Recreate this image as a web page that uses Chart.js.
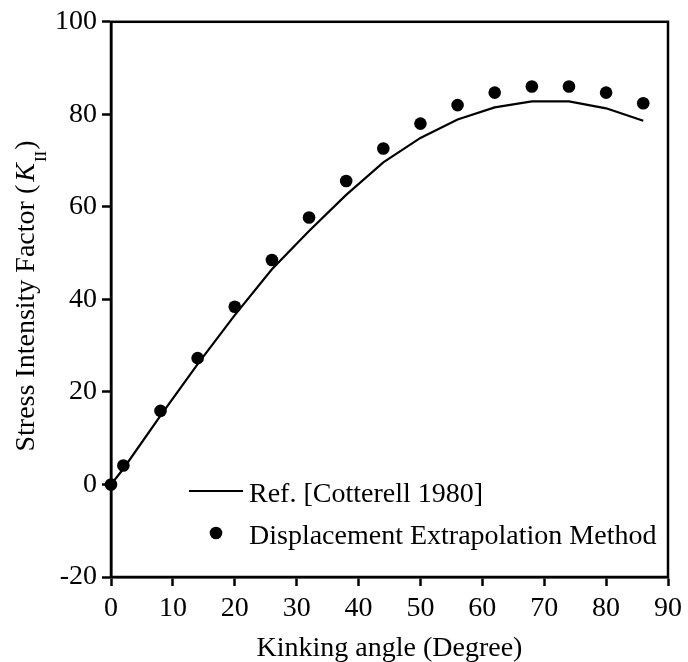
<!DOCTYPE html>
<html>
<head>
<meta charset="utf-8">
<script src="https://cdn.jsdelivr.net/npm/chart.js@4/dist/chart.umd.min.js"></script>
<style>
  html, body { margin: 0; padding: 0; background: #fff; }
  #wrap { width: 688px; height: 662px; }
</style>
</head>
<body>
<div id="wrap"><canvas id="c" width="688" height="662"></canvas></div>
<script>
const angles = [0, 2, 8, 14, 20, 26, 32, 38, 44, 50, 56, 62, 68, 74, 80, 86];
const refValues = [0, 3.4, 14.9, 26.0, 36.6, 46.5, 54.8, 62.6, 69.6, 74.9, 78.9, 81.5, 82.8, 82.8, 81.3, 78.6];
const demValues = [0, 4.1, 15.9, 27.3, 38.4, 48.5, 57.7, 65.6, 72.6, 78.0, 82.0, 84.7, 86.0, 86.0, 84.7, 82.4];
const xTicks = [0, 10, 20, 30, 40, 50, 60, 70, 80, 90];
const yTicks = [-20, 0, 20, 40, 60, 80, 100];
const seriesLabels = ['Ref. [Cotterell 1980]', 'Displacement Extrapolation Method'];
const xTitle = 'Kinking angle (Degree)';
const yTitleMain = 'Stress Intensity Factor (';
const yTitleVar = 'K';
const yTitleSub = 'II';
const yTitleEnd = ')';

const FONT = '"Liberation Serif", "Times New Roman", serif';

const decorPlugin = {
  id: 'decor',
  afterDraw(chart) {
    const ctx = chart.ctx;
    const a = chart.chartArea;
    ctx.save();
    // frame
    ctx.strokeStyle = '#000';
    ctx.lineWidth = 2.5;
    ctx.strokeRect(a.left, a.top, a.right - a.left, a.bottom - a.top);

    // x title
    ctx.fillStyle = '#000';
    ctx.font = '28px ' + FONT;
    ctx.textAlign = 'center';
    ctx.textBaseline = 'alphabetic';
    ctx.fillText(xTitle, (a.left + a.right) / 2, 656);

    // y title (rotated, mixed styles)
    const fMain = '28px ' + FONT;
    const fIt = 'italic 28px ' + FONT;
    const fSub = '17px ' + FONT;
    ctx.font = fMain; const w1 = ctx.measureText(yTitleMain).width;
    ctx.font = fIt; const w2 = ctx.measureText(yTitleVar).width;
    ctx.font = fSub; const w3 = ctx.measureText(yTitleSub).width;
    ctx.font = fMain; const w4 = ctx.measureText(yTitleEnd).width;
    const gap = 3;
    const total = w1 + gap + w2 + 1 + w3 + 1 + w4;
    ctx.translate(34, 296);
    ctx.rotate(-Math.PI / 2);
    ctx.textAlign = 'left';
    let x = -total / 2;
    ctx.font = fMain; ctx.fillText(yTitleMain, x, 0); x += w1 + gap;
    ctx.font = fIt; ctx.fillText(yTitleVar, x, 0); x += w2 + 1;
    ctx.font = fSub; ctx.fillText(yTitleSub, x, 12); x += w3 + 1;
    ctx.font = fMain; ctx.fillText(yTitleEnd, x, 0);
    ctx.restore();

    // legend
    ctx.save();
    ctx.fillStyle = '#000';
    ctx.strokeStyle = '#000';
    ctx.font = '28px ' + FONT;
    ctx.textAlign = 'left';
    ctx.textBaseline = 'alphabetic';
    ctx.lineWidth = 2.2;
    ctx.beginPath();
    ctx.moveTo(189, 491);
    ctx.lineTo(243, 491);
    ctx.stroke();
    ctx.fillText(seriesLabels[0], 249, 501.5);
    ctx.beginPath();
    ctx.arc(216, 533, 6.3, 0, Math.PI * 2);
    ctx.fill();
    ctx.fillText(seriesLabels[1], 249, 544);
    ctx.restore();
  }
};

const tickFont = { family: FONT, size: 28 };

new Chart(document.getElementById('c'), {
  type: 'scatter',
  data: {
    datasets: [
      {
        label: seriesLabels[0],
        data: angles.map((a, i) => ({ x: a, y: refValues[i] })),
        showLine: true,
        borderColor: '#000',
        borderWidth: 2.2,
        pointRadius: 0,
        tension: 0,
        fill: false,
        order: 2
      },
      {
        label: seriesLabels[1],
        data: angles.map((a, i) => ({ x: a, y: demValues[i] })),
        showLine: false,
        pointRadius: 6.3,
        pointBackgroundColor: '#000',
        pointBorderColor: '#000',
        pointBorderWidth: 0,
        clip: false,
        order: 1
      }
    ]
  },
  options: {
    responsive: false,
    animation: false,
    devicePixelRatio: 1,
    layout: { padding: { left: 0, top: 20, right: 19, bottom: 0 } },
    plugins: { legend: { display: false }, tooltip: { enabled: false } },
    scales: {
      x: {
        type: 'linear',
        min: 0, max: 90,
        afterBuildTicks(scale) { scale.ticks = xTicks.map(v => ({ value: v })); },
        afterFit(scale) { scale.height = 85; },
        ticks: { color: '#000', font: tickFont, padding: 6, maxRotation: 0, autoSkip: false },
        grid: { display: true, drawOnChartArea: false, drawTicks: true, tickLength: 9, tickWidth: 2.5, tickColor: '#000' },
        border: { display: true, color: '#000', width: 2.5 }
      },
      y: {
        type: 'linear',
        min: -20, max: 100,
        afterBuildTicks(scale) { scale.ticks = yTicks.map(v => ({ value: v })); },
        afterFit(scale) { scale.width = 111; },
        ticks: { color: '#000', font: tickFont, padding: 5, autoSkip: false },
        grid: { display: true, drawOnChartArea: false, drawTicks: true, tickLength: 9, tickWidth: 2.5, tickColor: '#000' },
        border: { display: true, color: '#000', width: 2.5 }
      }
    }
  },
  plugins: [decorPlugin]
});
</script>
</body>
</html>
